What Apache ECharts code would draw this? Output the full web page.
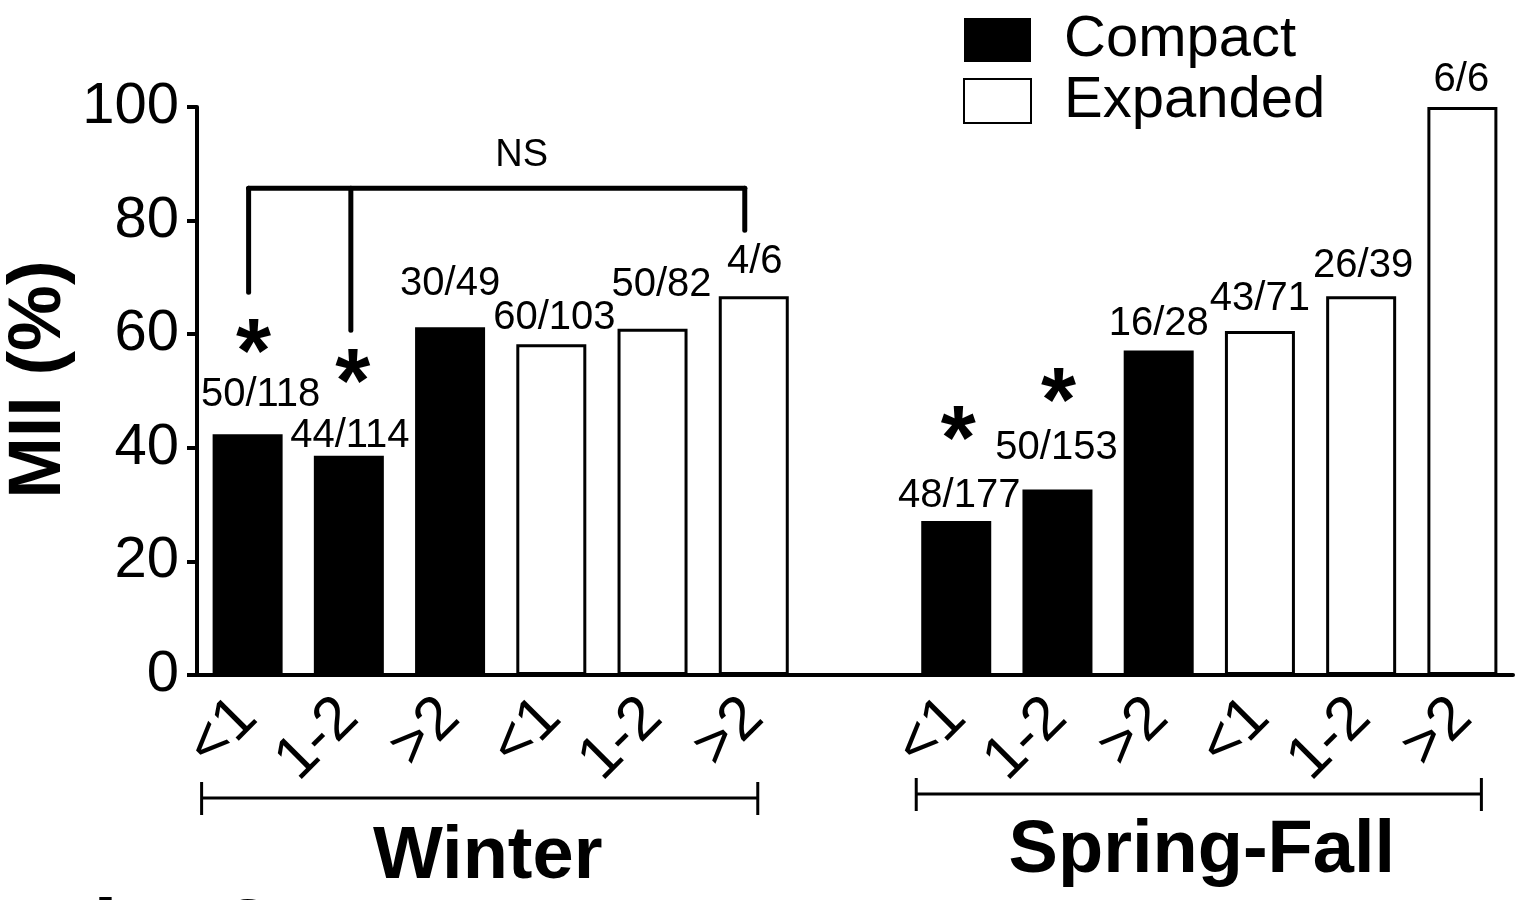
<!DOCTYPE html>
<html>
<head>
<meta charset="utf-8">
<script src="https://cdn.jsdelivr.net/npm/echarts@6/dist/echarts.min.js"></script>
<style>
  html, body { margin: 0; padding: 0; background: #fff; }
  #chart { width: 1519px; height: 900px; }
</style>
</head>
<body>
<div id="chart"></div>
<script>
// Age classes on the x axis; the blank slot separates the two seasons
const categories = ['<1', '1-2', '>2', '<1', '1-2', '>2', '', '<1', '1-2', '>2', '<1', '1-2', '>2'];

// Slots used by each condition (Winter first, then Spring-Fall)
const compactSlots = [0, 1, 2, 7, 8, 9];
const expandedSlots = [3, 4, 5, 10, 11, 12];

// Positive / total counts per bar
const compactPositive = [50, 44, 30, 48, 50, 16];
const compactTotal = [118, 114, 49, 177, 153, 28];
const expandedPositive = [60, 50, 4, 43, 26, 6];
const expandedTotal = [103, 82, 6, 71, 39, 6];

// Y axis range
const yMin = 0, yMax = 100, yStep = 20;

// Significance marks (slot, height in %)
const starSlots = [0, 1, 7, 8];
const starLevels = [59.5, 54.2, 44.2, 50.9];

// Label nudges (px) for the count labels, indexed by slot
const labelShift = [[13, -19], [1, 0], [0, -23], [3, -6], [9, -24], [1, -14], null,
                    [3, -5], [-1, -21], [0, -6], [0, -12], [2, -10], [-1, -7]];
// Horizontal nudges (px) for the significance marks
const starShift = [6, 4, 2, 1];

const FONT = '"Liberation Sans", Arial, Helvetica, sans-serif';

function buildSeriesData(slots, positive, total) {
  const data = categories.map(() => null);
  slots.forEach((slot, i) => {
    data[slot] = {
      value: positive[i] / total[i] * 100,
      count: positive[i] + '/' + total[i],
      label: { offset: labelShift[slot] }
    };
  });
  return data;
}

const countLabel = {
  show: true,
  position: 'top',
  distance: 0,
  fontFamily: FONT,
  fontSize: 40,
  color: '#000',
  formatter: p => p.data.count
};

const chart = echarts.init(document.getElementById('chart'));

chart.setOption({
  animation: false,
  backgroundColor: '#fff',
  textStyle: { fontFamily: FONT },
  grid: { left: 197, top: 107, width: 1316, height: 568, containLabel: false },
  legend: {
    orient: 'vertical',
    left: 963,
    top: 11,
    padding: 0,
    itemWidth: 67,
    itemHeight: 44,
    itemGap: 3,
    icon: 'rect',
    selectedMode: false,
    textStyle: { fontFamily: FONT, fontSize: 58, color: '#000', padding: [0, 0, 0, 28] },
    data: [
      { name: 'Compact', itemStyle: { color: '#000', borderWidth: 0 } },
      { name: 'Expanded', itemStyle: { color: '#fff', borderColor: '#000', borderWidth: 2 } }
    ]
  },
  xAxis: {
    type: 'category',
    data: categories,
    axisLine: { lineStyle: { color: '#000', width: 4 } },
    axisTick: { show: false },
    axisLabel: {
      interval: 0,
      rotate: 45,
      margin: 33,
      fontFamily: FONT,
      fontSize: 61,
      color: '#000'
    },
    splitLine: { show: false }
  },
  yAxis: {
    type: 'value',
    min: yMin,
    max: yMax,
    interval: yStep,
    axisLine: { show: true, lineStyle: { color: '#000', width: 4 } },
    axisTick: { show: true, length: 10, lineStyle: { color: '#000', width: 4 } },
    axisLabel: { margin: 18, fontFamily: FONT, fontSize: 58, color: '#000' },
    splitLine: { show: false }
  },
  series: [
    {
      name: 'Compact',
      type: 'bar',
      barWidth: 70,
      barGap: '-100%',
      itemStyle: { color: '#000' },
      label: countLabel,
      data: buildSeriesData(compactSlots, compactPositive, compactTotal)
    },
    {
      name: 'Expanded',
      type: 'bar',
      barWidth: 70,
      barGap: '-100%',
      itemStyle: { color: '#fff', borderColor: '#000', borderWidth: 3 },
      label: countLabel,
      data: buildSeriesData(expandedSlots, expandedPositive, expandedTotal)
    },
    {
      name: 'stars',
      type: 'scatter',
      symbolSize: 1,
      silent: true,
      itemStyle: { color: 'rgba(0,0,0,0)', opacity: 1 },
      label: {
        show: true,
        position: 'inside',
        formatter: '*',
        fontFamily: FONT,
        fontWeight: 'bold',
        fontSize: 90,
        color: '#000',
        opacity: 1
      },
      data: starSlots.map((s, i) => ({
        value: [s, starLevels[i]],
        label: { offset: [starShift[i], 20] }
      }))
    }
  ]
});

// Annotations placed through the chart's own coordinate system
const px = (slot, v) => chart.convertToPixel({ xAxisIndex: 0, yAxisIndex: 0 }, [slot, v]);
const axisY = px(0, 0)[1];

function seg(x1, y1, x2, y2, w, cap) {
  return { type: 'line', silent: true, shape: { x1, y1, x2, y2 },
           style: { stroke: '#000', lineWidth: w, lineCap: cap || 'butt' } };
}
function label(text, x, y, size, weight, extra) {
  return Object.assign({ type: 'text', silent: true, x, y,
    style: { text, fill: '#000', font: (weight || 'normal') + ' ' + size + 'px ' + FONT,
             textAlign: 'center', textVerticalAlign: 'middle' } }, extra || {});
}

const g = [];

// NS comparison bracket over the Winter group
const brTop = px(0, 85.7)[1];
const bx0 = px(0, 0)[0] + 1, bx1 = px(1, 0)[0] + 2, bx5 = px(5, 0)[0] - 9;
g.push(seg(bx0, brTop, bx5, brTop, 5, 'round'));
g.push(seg(bx0, brTop, bx0, px(0, 67.4)[1], 5, 'round'));
g.push(seg(bx1, brTop, bx1, px(0, 60.7)[1], 5, 'round'));
g.push(seg(bx5, brTop, bx5, px(0, 78.3)[1], 5, 'round'));
g.push(label('NS', (bx0 + bx5) / 2 + 25, px(0, 91.5)[1], 38));

// Season brackets under the axis labels
function seasonBracket(xa, xb, y, name, textX, textY) {
  g.push(seg(xa, y, xb, y, 3));
  g.push(seg(xa, y - 16, xa, y + 17, 3));
  g.push(seg(xb, y - 16, xb, y + 17, 3));
  g.push(label(name, (xa + xb) / 2 + textX, textY, 74, 'bold'));
}
seasonBracket(px(0, 0)[0] - 46, px(5, 0)[0] + 4, axisY + 123, 'Winter', 8, axisY + 183);
seasonBracket(px(7, 0)[0] - 40, px(12, 0)[0] + 19, axisY + 119, 'Spring-Fall', 3, axisY + 177);

// Y axis title
g.push(label('MII (%)', 40, px(0, 52)[1], 74, 'bold', { rotation: Math.PI / 2 }));

// Figure tag at the bottom edge
g.push({ type: 'text', silent: true, x: 38, y: 893,
  style: { text: 'Fig. 3', fill: '#000', font: 'bold 90px ' + FONT, textAlign: 'left', textVerticalAlign: 'top' } });

chart.setOption({ graphic: g });
</script>
</body>
</html>
